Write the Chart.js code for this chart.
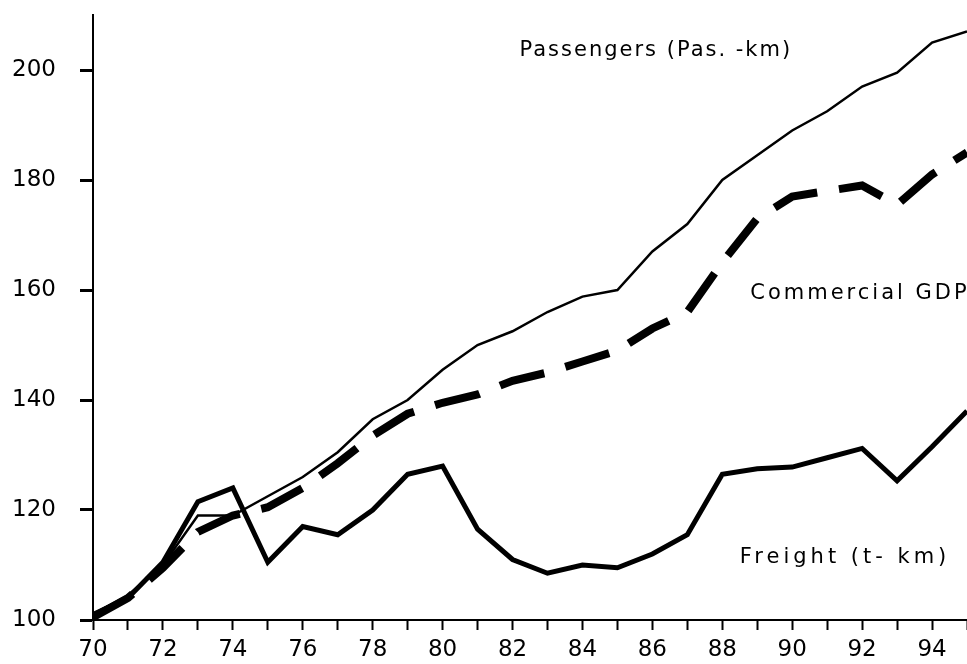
<!DOCTYPE html>
<html>
<head>
<meta charset="utf-8">
<script src="https://cdn.jsdelivr.net/npm/chart.js@4"></script>
<style>
  html, body { margin: 0; padding: 0; background: #fff; }
  #wrap { width: 967px; height: 664px; }
</style>
</head>
<body>
<div id="wrap"><canvas id="myChart" width="967" height="664"></canvas></div>
<script>
// years 1970..1995
const years = [70,71,72,73,74,75,76,77,78,79,80,81,82,83,84,85,86,87,88,89,90,91,92,93,94,95];
const passengers = [101,104.5,110,119,119,122.5,126,130.5,136.5,140,145.5,150,152.5,156,158.8,160,167,172,180,184.5,189,192.5,197,199.5,205,207];
const commercialGdp = [100.5,104,109.5,116,119,120.5,124,128.5,133.5,137.5,139.5,141,143.5,145,147,149,153,156,165,173,177,178,179,175.5,181,185];
const freight = [101,104,110.5,121.5,124,110.5,117,115.5,120,126.5,128,116.5,111,108.5,110,109.5,112,115.5,126.5,127.5,127.8,129.5,131.2,125.3,131.5,138];

const xTicks = [70,71,72,73,74,75,76,77,78,79,80,81,82,83,84,85,86,87,88,89,90,91,92,93,94,95];
const xTickLabels = ['70','','72','','74','','76','','78','','80','','82','','84','','86','','88','','90','','92','','94',''];
const yTicks = [100,120,140,160,180,200];

// series names written inside the plot, anchored in data units
const seriesLabels = [
  { text: 'Passengers (Pas. -km)', x: 82.2, y: 203.6, spacing: '2px' },
  { text: 'Commercial GDP', x: 88.8, y: 159.3, spacing: '3px' },
  { text: 'Freight (t- km)', x: 88.5, y: 111.3, spacing: '4px' }
];

const FONT = '"DejaVu Sans", "Liberation Sans", sans-serif';
Chart.defaults.font.family = FONT;
Chart.defaults.font.size = 21;
Chart.defaults.color = '#000';

const toPts = arr => arr.map((v, i) => ({ x: years[i], y: v }));

const labelPlugin = {
  id: 'seriesText',
  afterDatasetsDraw(chart) {
    const ctx = chart.ctx;
    const xs = chart.scales.x, ys = chart.scales.y;
    ctx.save();
    ctx.font = '21px ' + FONT;
    ctx.fillStyle = '#000';
    ctx.textAlign = 'left';
    ctx.textBaseline = 'middle';
    seriesLabels.forEach(l => {
      ctx.letterSpacing = l.spacing;
      ctx.fillText(l.text, xs.getPixelForValue(l.x), ys.getPixelForValue(l.y));
    });
    ctx.restore();
  }
};

let myChart = document.getElementById('myChart').getContext('2d');
new Chart(myChart, {
  type: 'line',
  data: {
    datasets: [
      {
        label: 'Commercial GDP',
        data: toPts(commercialGdp),
        borderColor: '#000',
        borderWidth: 8,
        borderDash: [46, 22],
        borderCapStyle: 'butt',
        pointRadius: 0,
        tension: 0
      },
      {
        label: 'Freight (t- km)',
        data: toPts(freight),
        borderColor: '#000',
        borderWidth: 5,
        pointRadius: 0,
        tension: 0
      },
      {
        label: 'Passengers (Pas. -km)',
        data: toPts(passengers),
        borderColor: '#000',
        borderWidth: 2.5,
        pointRadius: 0,
        tension: 0
      }
    ]
  },
  options: {
    responsive: false,
    animation: false,
    layout: { padding: { top: 15, left: 0, right: 0, bottom: 0 } },
    plugins: {
      legend: { display: false },
      tooltip: { enabled: false }
    },
    scales: {
      x: {
        type: 'linear',
        min: 70,
        max: 95,
        afterBuildTicks: axis => { axis.ticks = xTicks.map(v => ({ value: v })); },
        afterFit: axis => { axis.height = 44; axis.paddingLeft = 0; axis.paddingRight = 0; },
        ticks: {
          autoSkip: false,
          maxRotation: 0,
          padding: 6,
          font: { size: 23 },
          callback: (v, i) => xTickLabels[xTicks.indexOf(v)]
        },
        grid: { drawOnChartArea: false, tickLength: 10, tickWidth: 2, tickColor: '#000' },
        border: { color: '#000', width: 2 }
      },
      y: {
        min: 100,
        max: 210,
        afterBuildTicks: axis => { axis.ticks = yTicks.map(v => ({ value: v })); },
        afterFit: axis => { axis.width = 93; axis.paddingTop = 0; axis.paddingBottom = 0; },
        ticks: { padding: 24, font: { size: 23 } },
        grid: { drawOnChartArea: false, tickLength: 13, tickWidth: 3, tickColor: '#000' },
        border: { color: '#000', width: 2 }
      }
    }
  },
  plugins: [labelPlugin]
});
</script>
</body>
</html>
